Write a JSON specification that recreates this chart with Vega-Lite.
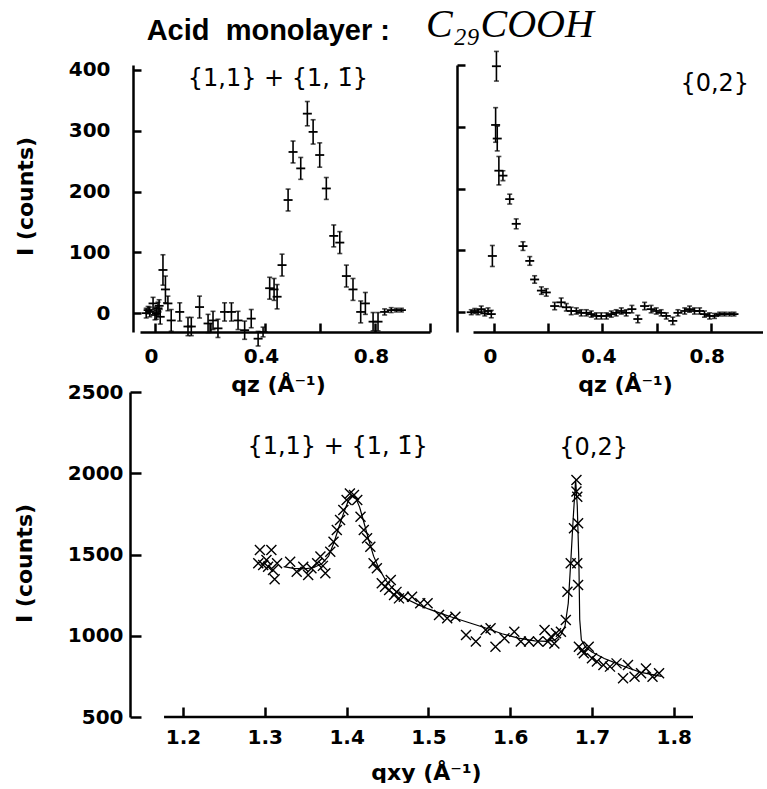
{
  "$schema": "https://vega.github.io/schema/vega-lite/v6.json",
  "background": "white",
  "padding": {"left": 13, "top": 4, "right": 0, "bottom": 0},
  "columns": 2,
  "bounds": "flush",
  "spacing": {"row": 60, "column": 43},
  "datasets": {
    "tl": [
      {"q": -0.032, "I": 0, "e": 8}, {"q": -0.025, "I": 5, "e": 6}, {"q": -0.019, "I": 2, "e": 8}, {"q": -0.007, "I": 16, "e": 10},
      {"q": 0.0, "I": -3, "e": 8}, {"q": 0.005, "I": 0, "e": 10}, {"q": 0.011, "I": 8, "e": 10}, {"q": 0.015, "I": 12, "e": 10},
      {"q": 0.019, "I": -6, "e": 12}, {"q": 0.029, "I": 71, "e": 25}, {"q": 0.038, "I": 39, "e": 22}, {"q": 0.047, "I": 16, "e": 12},
      {"q": 0.059, "I": -12, "e": 18}, {"q": 0.090, "I": 2, "e": 15}, {"q": 0.120, "I": -22, "e": 15}, {"q": 0.132, "I": -22, "e": 15},
      {"q": 0.162, "I": 10, "e": 18}, {"q": 0.193, "I": -17, "e": 15}, {"q": 0.211, "I": -12, "e": 15}, {"q": 0.229, "I": -25, "e": 15},
      {"q": 0.253, "I": 2, "e": 15}, {"q": 0.278, "I": 2, "e": 15}, {"q": 0.302, "I": -12, "e": 15}, {"q": 0.326, "I": -28, "e": 15},
      {"q": 0.350, "I": -9, "e": 15}, {"q": 0.375, "I": -42, "e": 12}, {"q": 0.393, "I": -31, "e": 8}, {"q": 0.417, "I": 41, "e": 18},
      {"q": 0.433, "I": 39, "e": 18}, {"q": 0.444, "I": 27, "e": 20}, {"q": 0.462, "I": 79, "e": 18}, {"q": 0.484, "I": 186, "e": 18},
      {"q": 0.502, "I": 265, "e": 18}, {"q": 0.530, "I": 238, "e": 18}, {"q": 0.554, "I": 328, "e": 20}, {"q": 0.575, "I": 298, "e": 20},
      {"q": 0.599, "I": 260, "e": 20}, {"q": 0.623, "I": 205, "e": 18}, {"q": 0.650, "I": 127, "e": 18}, {"q": 0.672, "I": 116, "e": 18},
      {"q": 0.696, "I": 61, "e": 18}, {"q": 0.720, "I": 39, "e": 18}, {"q": 0.748, "I": 2, "e": 18}, {"q": 0.765, "I": 16, "e": 18},
      {"q": 0.793, "I": -14, "e": 15}, {"q": 0.811, "I": -14, "e": 15}, {"q": 0.835, "I": 2, "e": 5}, {"q": 0.859, "I": 5, "e": 4},
      {"q": 0.878, "I": 5, "e": 3}, {"q": 0.896, "I": 5, "e": 3}
    ],
    "tr": [
      {"q": -0.084, "I": 0, "e": 4}, {"q": -0.071, "I": 2, "e": 4}, {"q": -0.059, "I": 0, "e": 4}, {"q": -0.047, "I": 5, "e": 5},
      {"q": -0.034, "I": -2, "e": 4}, {"q": -0.022, "I": 2, "e": 5}, {"q": -0.010, "I": -3, "e": 6}, {"q": -0.006, "I": 91, "e": 17},
      {"q": 0.009, "I": 398, "e": 24}, {"q": 0.006, "I": 303, "e": 28}, {"q": 0.012, "I": 281, "e": 20}, {"q": 0.018, "I": 229, "e": 23},
      {"q": 0.033, "I": 221, "e": 8}, {"q": 0.058, "I": 183, "e": 8}, {"q": 0.082, "I": 143, "e": 8}, {"q": 0.107, "I": 107, "e": 7},
      {"q": 0.132, "I": 83, "e": 7}, {"q": 0.150, "I": 53, "e": 6}, {"q": 0.175, "I": 35, "e": 6}, {"q": 0.193, "I": 32, "e": 6},
      {"q": 0.224, "I": 10, "e": 6}, {"q": 0.248, "I": 16, "e": 7}, {"q": 0.267, "I": 8, "e": 6}, {"q": 0.285, "I": 2, "e": 6},
      {"q": 0.304, "I": 2, "e": 5}, {"q": 0.322, "I": -1, "e": 5}, {"q": 0.341, "I": -1, "e": 5}, {"q": 0.359, "I": -3, "e": 5},
      {"q": 0.378, "I": -6, "e": 5}, {"q": 0.396, "I": -6, "e": 5}, {"q": 0.415, "I": -6, "e": 5}, {"q": 0.433, "I": -3, "e": 5},
      {"q": 0.451, "I": -1, "e": 5}, {"q": 0.470, "I": 2, "e": 5}, {"q": 0.488, "I": -1, "e": 5}, {"q": 0.509, "I": 5, "e": 6},
      {"q": 0.531, "I": -11, "e": 6}, {"q": 0.556, "I": 10, "e": 6}, {"q": 0.580, "I": 5, "e": 6}, {"q": 0.599, "I": 2, "e": 5},
      {"q": 0.617, "I": -1, "e": 5}, {"q": 0.636, "I": -6, "e": 5}, {"q": 0.660, "I": -14, "e": 6}, {"q": 0.679, "I": -1, "e": 5},
      {"q": 0.704, "I": 2, "e": 5}, {"q": 0.722, "I": 5, "e": 5}, {"q": 0.740, "I": 2, "e": 5}, {"q": 0.759, "I": 2, "e": 5},
      {"q": 0.777, "I": -3, "e": 5}, {"q": 0.796, "I": -6, "e": 5}, {"q": 0.814, "I": -6, "e": 4}, {"q": 0.833, "I": -3, "e": 3},
      {"q": 0.851, "I": -3, "e": 3}, {"q": 0.870, "I": -3, "e": 3}, {"q": 0.886, "I": -3, "e": 3}
    ],
    "bp": [
      {"q": 1.294, "I": 1528}, {"q": 1.308, "I": 1528}, {"q": 1.292, "I": 1446}, {"q": 1.298, "I": 1435}, {"q": 1.302, "I": 1466},
      {"q": 1.304, "I": 1425}, {"q": 1.310, "I": 1405}, {"q": 1.315, "I": 1446}, {"q": 1.312, "I": 1347}, {"q": 1.331, "I": 1456},
      {"q": 1.339, "I": 1394}, {"q": 1.347, "I": 1425}, {"q": 1.353, "I": 1374}, {"q": 1.357, "I": 1415}, {"q": 1.364, "I": 1446},
      {"q": 1.368, "I": 1487}, {"q": 1.371, "I": 1430}, {"q": 1.374, "I": 1384}, {"q": 1.380, "I": 1517}, {"q": 1.384, "I": 1579},
      {"q": 1.388, "I": 1651}, {"q": 1.392, "I": 1712}, {"q": 1.396, "I": 1774}, {"q": 1.400, "I": 1835}, {"q": 1.404, "I": 1876},
      {"q": 1.409, "I": 1866}, {"q": 1.413, "I": 1835}, {"q": 1.417, "I": 1733}, {"q": 1.421, "I": 1651}, {"q": 1.425, "I": 1600},
      {"q": 1.429, "I": 1548}, {"q": 1.433, "I": 1446}, {"q": 1.437, "I": 1415}, {"q": 1.443, "I": 1323}, {"q": 1.447, "I": 1302},
      {"q": 1.452, "I": 1282}, {"q": 1.454, "I": 1343}, {"q": 1.458, "I": 1251}, {"q": 1.461, "I": 1270}, {"q": 1.464, "I": 1230},
      {"q": 1.470, "I": 1240}, {"q": 1.480, "I": 1240}, {"q": 1.490, "I": 1200}, {"q": 1.499, "I": 1200}, {"q": 1.513, "I": 1128},
      {"q": 1.523, "I": 1107}, {"q": 1.533, "I": 1117}, {"q": 1.546, "I": 1005}, {"q": 1.558, "I": 964}, {"q": 1.570, "I": 1035},
      {"q": 1.576, "I": 1046}, {"q": 1.582, "I": 933}, {"q": 1.593, "I": 984}, {"q": 1.605, "I": 1025}, {"q": 1.613, "I": 964},
      {"q": 1.623, "I": 964}, {"q": 1.634, "I": 964}, {"q": 1.642, "I": 1035}, {"q": 1.646, "I": 964}, {"q": 1.650, "I": 994},
      {"q": 1.654, "I": 953}, {"q": 1.656, "I": 1015}, {"q": 1.662, "I": 1025}, {"q": 1.668, "I": 1097}, {"q": 1.670, "I": 1271},
      {"q": 1.674, "I": 1446}, {"q": 1.678, "I": 1661}, {"q": 1.681, "I": 1887}, {"q": 1.681, "I": 1958}, {"q": 1.682, "I": 1856},
      {"q": 1.683, "I": 1692}, {"q": 1.682, "I": 1446}, {"q": 1.683, "I": 1312}, {"q": 1.684, "I": 933}, {"q": 1.688, "I": 912},
      {"q": 1.690, "I": 892}, {"q": 1.696, "I": 933}, {"q": 1.700, "I": 861}, {"q": 1.706, "I": 841}, {"q": 1.714, "I": 820},
      {"q": 1.722, "I": 810}, {"q": 1.730, "I": 830}, {"q": 1.738, "I": 738}, {"q": 1.744, "I": 820}, {"q": 1.752, "I": 748},
      {"q": 1.760, "I": 769}, {"q": 1.766, "I": 799}, {"q": 1.774, "I": 748}, {"q": 1.782, "I": 769}
    ],
    "fit": [
      {"q": 1.323, "I": 1425}, {"q": 1.335, "I": 1415}, {"q": 1.349, "I": 1412}, {"q": 1.360, "I": 1420}, {"q": 1.370, "I": 1445},
      {"q": 1.378, "I": 1490}, {"q": 1.385, "I": 1580}, {"q": 1.390, "I": 1660}, {"q": 1.396, "I": 1750}, {"q": 1.402, "I": 1830},
      {"q": 1.407, "I": 1862}, {"q": 1.411, "I": 1850}, {"q": 1.416, "I": 1790}, {"q": 1.421, "I": 1700}, {"q": 1.427, "I": 1590},
      {"q": 1.433, "I": 1490}, {"q": 1.440, "I": 1410}, {"q": 1.448, "I": 1340}, {"q": 1.456, "I": 1292}, {"q": 1.465, "I": 1255},
      {"q": 1.475, "I": 1222}, {"q": 1.488, "I": 1190}, {"q": 1.500, "I": 1165}, {"q": 1.515, "I": 1138}, {"q": 1.530, "I": 1112},
      {"q": 1.550, "I": 1080}, {"q": 1.570, "I": 1048}, {"q": 1.590, "I": 1012}, {"q": 1.610, "I": 985}, {"q": 1.630, "I": 968},
      {"q": 1.645, "I": 965}, {"q": 1.655, "I": 975}, {"q": 1.662, "I": 1005}, {"q": 1.667, "I": 1060}, {"q": 1.671, "I": 1200},
      {"q": 1.674, "I": 1450}, {"q": 1.677, "I": 1720}, {"q": 1.680, "I": 1960}, {"q": 1.682, "I": 1800}, {"q": 1.684, "I": 1450},
      {"q": 1.685, "I": 1100}, {"q": 1.687, "I": 975}, {"q": 1.692, "I": 930}, {"q": 1.700, "I": 900}, {"q": 1.715, "I": 860},
      {"q": 1.730, "I": 830}, {"q": 1.745, "I": 800}, {"q": 1.760, "I": 775}, {"q": 1.785, "I": 750}
    ]
  },
  "concat": [
    {
      "width": 290,
      "height": 267,
      "title": {"text": "Acid\u00a0 monolayer :", "anchor": "end", "frame": "group", "dx": -40, "offset": -9, "baseline": "alphabetic", "font": "Liberation Sans", "fontSize": 29, "fontWeight": "bold", "color": "black"},
      "encoding": {
        "x": {"field": "q", "type": "quantitative", "scale": {"domain": [-0.0545, 1.0], "nice": false, "zero": false},
          "axis": {"values": [0, 0.2, 0.4, 0.6, 0.8, 1.0], "labelExpr": "datum.value == 0 ? '0' : datum.value == 0.4 ? '0.4' : datum.value == 0.8 ? '0.8' : ''", "labelOffset": -4, "labelPadding": 23, "tickSize": -9, "title": "qz (Å⁻¹)", "titleX": 138, "titleY": 59, "titleBaseline": "alphabetic", "titleAlign": "center"}},
        "y": {"field": "I", "type": "quantitative", "scale": {"domain": [-31, 408], "nice": false, "zero": false},
          "axis": {"values": [0, 100, 200, 300, 400], "format": "d", "offset": 7, "labelPadding": 31, "tickSize": -8, "title": "I (counts)", "titleX": -108, "titleY": 131, "titleAngle": -90, "titleAlign": "center", "titleBaseline": "middle"}}
      },
      "layer": [
        {"data": {"name": "tl"}, "mark": {"type": "errorbar", "ticks": true, "thickness": 1.6, "color": "black"}, "encoding": {"yError": {"field": "e"}}},
        {"data": {"name": "tl"}, "mark": {"type": "point", "shape": "M-1,0L1,0", "size": 81, "filled": false, "color": "black", "strokeWidth": 1.8, "opacity": 1}},
        {"data": {"values": [{"q": 0.447, "I": 385, "label": "{1,1} + {1, 1̄}"}]}, "mark": {"type": "text", "font": "DejaVu Sans", "fontSize": 24, "align": "center", "baseline": "middle", "color": "black"}, "encoding": {"text": {"field": "label"}}}
      ]
    },
    {
      "width": 290,
      "height": 267,
      "title": {"text": "C₂₉COOH", "anchor": "start", "frame": "group", "dx": -47, "offset": -26, "baseline": "alphabetic", "font": "Liberation Serif", "fontSize": 40, "fontStyle": "italic", "fontWeight": "normal", "color": "black"},
      "encoding": {
        "x": {"field": "q", "type": "quantitative", "scale": {"domain": [-0.0775, 0.993], "nice": false, "zero": false},
          "axis": {"values": [0, 0.2, 0.4, 0.6, 0.8], "labelExpr": "datum.value == 0 ? '0' : datum.value == 0.4 ? '0.4' : datum.value == 0.8 ? '0.8' : ''", "labelOffset": -4, "labelPadding": 23, "tickSize": -9, "title": "qz (Å⁻¹)", "titleX": 152, "titleY": 59, "titleBaseline": "alphabetic", "titleAlign": "center"}},
        "y": {"field": "I", "type": "quantitative", "scale": {"domain": [-32, 400], "nice": false, "zero": false},
          "axis": {"values": [0, 100, 200, 300, 400], "labels": false, "offset": 16, "tickSize": -8, "title": null}}
      },
      "layer": [
        {"data": {"name": "tr"}, "mark": {"type": "errorbar", "ticks": true, "thickness": 1.6, "color": "black"}, "encoding": {"yError": {"field": "e"}}},
        {"data": {"name": "tr"}, "mark": {"type": "point", "shape": "M-1,0L1,0", "size": 81, "filled": false, "color": "black", "strokeWidth": 1.8, "opacity": 1}},
        {"data": {"values": [{"q": 0.815, "I": 370, "label": "{0,2}"}]}, "mark": {"type": "text", "font": "DejaVu Sans", "fontSize": 24, "align": "center", "baseline": "middle", "color": "black"}, "encoding": {"text": {"field": "label"}}}
      ]
    },
    {
      "width": 290,
      "height": 325,
      "encoding": {
        "x": {"field": "q", "type": "quantitative", "scale": {"domain": [1.1474, 1.8235], "range": [0, 553], "nice": false, "zero": false},
          "axis": {"values": [1.2, 1.3, 1.4, 1.5, 1.6, 1.7, 1.8], "format": ".1f", "domain": false, "labelPadding": 20, "tickSize": -10, "title": "qxy (Å⁻¹)", "titleX": 286, "titleY": 62, "titleBaseline": "alphabetic", "titleAlign": "center"}},
        "y": {"field": "I", "type": "quantitative", "scale": {"domain": [500, 2500], "nice": false, "zero": false},
          "axis": {"values": [500, 1000, 1500, 2000, 2500], "format": "d", "offset": 10, "labelPadding": 18, "tickSize": -11, "title": "I (counts)", "titleX": -106, "titleY": 171, "titleAngle": -90, "titleAlign": "center", "titleBaseline": "middle"}}
      },
      "layer": [
        {"data": {"name": "fit"}, "mark": {"type": "line", "color": "black", "strokeWidth": 1.2}},
        {"data": {"name": "bp"}, "mark": {"type": "point", "shape": "M-1,-1L1,1M-1,1L1,-1", "size": 100, "filled": false, "color": "black", "strokeWidth": 1.4, "opacity": 1}},
        {"data": {"values": [{"q": 0, "I": 0}]}, "mark": {"type": "rule", "color": "black", "strokeWidth": 2.5}, "encoding": {"x": {"datum": 1.1768}, "x2": {"datum": 1.8235}, "y": {"datum": 500}}},
        {"data": {"values": [{"q": 1.389, "I": 2162, "label": "{1,1} + {1, 1̄}"}, {"q": 1.702, "I": 2155, "label": "{0,2}"}]}, "mark": {"type": "text", "font": "DejaVu Sans", "fontSize": 24, "align": "center", "baseline": "middle", "color": "black"}, "encoding": {"text": {"field": "label"}}}
      ]
    }
  ],
  "config": {
    "view": {"stroke": null},
    "font": "DejaVu Sans",
    "axis": {"domainColor": "black", "domainWidth": 2.5, "tickColor": "black", "tickWidth": 2.5, "labelColor": "black", "labelFont": "DejaVu Sans", "labelFontSize": 20, "labelFontWeight": "bold", "titleColor": "black", "titleFont": "DejaVu Sans", "titleFontSize": 22, "titleFontWeight": "bold", "grid": false, "labelOverlap": false, "labelFlush": false}
  }
}
